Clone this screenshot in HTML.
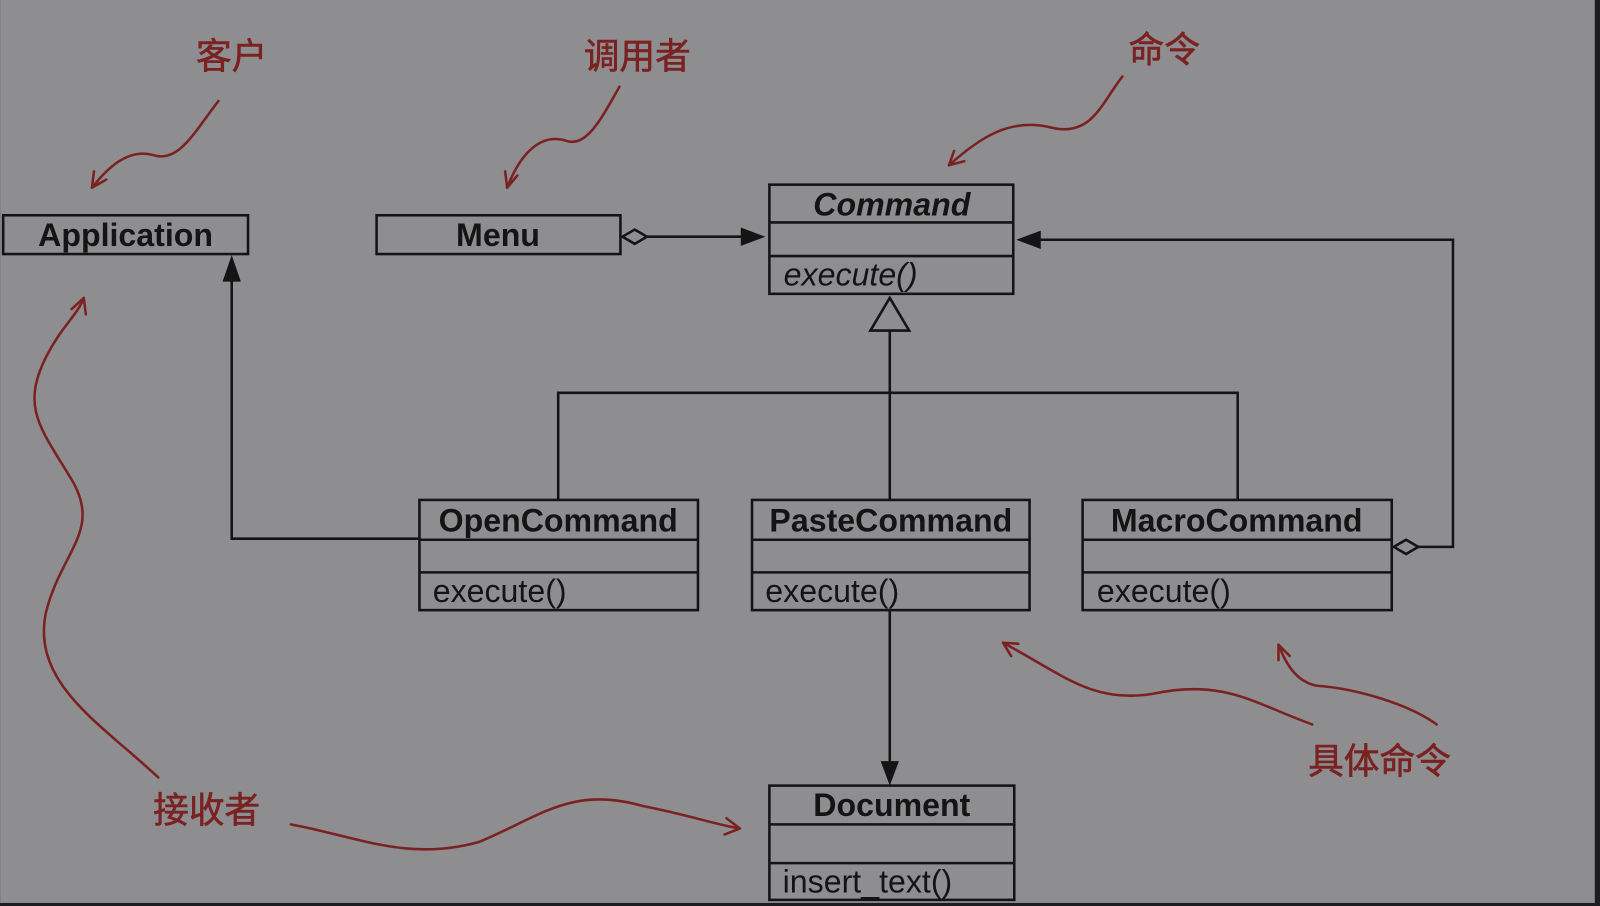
<!DOCTYPE html>
<html><head><meta charset="utf-8"><style>
html,body{margin:0;padding:0;width:1600px;height:906px;overflow:hidden;background:#1d1d1f}
svg{display:block}
.t{font-family:"Liberation Sans",Arial,sans-serif;font-size:31.5px;fill:#141414}
.b{font-weight:bold}
.cn{font-family:"Liberation Sans","Noto Sans CJK SC",sans-serif;font-size:35px;fill:#7a2222;stroke:#7a2222;stroke-width:0.6}
.r{fill:none;stroke:#7a2222;stroke-width:2.5;stroke-linecap:round}
</style></head><body>
<svg width="1600" height="906" viewBox="0 0 1568 888">
<rect x="0" y="0" width="1563" height="885" fill="#8e8d90"/>
<g fill="none" stroke="#141414" stroke-width="2.5">
<rect x="3" y="211" width="240" height="38"/>
<rect x="369" y="211" width="239" height="38"/>
<rect x="754" y="181" width="239" height="107"/>
<line x1="754" y1="218" x2="993" y2="218"/><line x1="754" y1="251" x2="993" y2="251"/>
<rect x="411" y="490" width="273" height="108"/>
<line x1="411" y1="529" x2="684" y2="529"/><line x1="411" y1="561" x2="684" y2="561"/>
<rect x="737" y="490" width="272" height="108"/>
<line x1="737" y1="529" x2="1009" y2="529"/><line x1="737" y1="561" x2="1009" y2="561"/>
<rect x="1061" y="490" width="303" height="108"/>
<line x1="1061" y1="529" x2="1364" y2="529"/><line x1="1061" y1="561" x2="1364" y2="561"/>
<rect x="754" y="770" width="240" height="112"/>
<line x1="754" y1="808" x2="994" y2="808"/><line x1="754" y1="846" x2="994" y2="846"/>
<line x1="634" y1="232" x2="730" y2="232"/>
<polygon points="610,232 622,225 634,232 622,239"/>
<polygon points="853,324 872,292 891,324"/>
<polyline points="872,324 872,490"/>
<polyline points="547,490 547,385 1213,385 1213,490"/>
<polyline points="411,528 227,528 227,272"/>
<polyline points="1390,536 1424,536 1424,235 1018,235"/>
<polygon points="1366,536 1378,529 1390,536 1378,543"/>
<line x1="872" y1="598" x2="872" y2="748"/>
</g>
<g fill="#141414">
<polygon points="750,232 726,223 726,241"/>
<polygon points="227,250 218,276 236,276"/>
<polygon points="996,235 1020,226 1020,244"/>
<polygon points="872,770 863,746 881,746"/>
</g>
<text class="t b" x="123" y="241" text-anchor="middle">Application</text>
<text class="t b" x="488" y="241" text-anchor="middle">Menu</text>
<text class="t b" x="874" y="211" text-anchor="middle" font-style="italic">Command</text>
<text class="t" x="768" y="280" font-style="italic">execute()</text>
<text class="t b" x="547" y="521" text-anchor="middle">OpenCommand</text>
<text class="t" x="424" y="590">execute()</text>
<text class="t b" x="873" y="521" text-anchor="middle">PasteCommand</text>
<text class="t" x="750" y="590">execute()</text>
<text class="t b" x="1212" y="521" text-anchor="middle">MacroCommand</text>
<text class="t" x="1075" y="590">execute()</text>
<text class="t b" x="874" y="800" text-anchor="middle">Document</text>
<text class="t" x="767" y="875">insert_text()</text>
<text class="cn" x="192" y="67">客户</text>
<text class="cn" x="572" y="67">调用者</text>
<text class="cn" x="1106" y="61">命令</text>
<text class="cn" x="1282" y="758">具体命令</text>
<text class="cn" x="150" y="806">接收者</text>
<path class="r" d="M214,99 C190,130 175,160 150,152 C125,145 105,165 90,184"/>
<path class="r" d="M90,184 L92,168 M90,184 L104,176"/>
<path class="r" d="M607,85 C590,115 575,145 555,138 C530,130 510,150 497,184"/>
<path class="r" d="M497,184 L495,168 M497,184 L507,172"/>
<path class="r" d="M1100,75 C1080,100 1070,135 1030,125 C990,115 960,135 930,162"/>
<path class="r" d="M930,162 L935,148 M930,162 L945,158"/>
<path class="r" d="M1286,710 C1230,690 1200,665 1130,680 C1070,690 1040,660 983,630"/>
<path class="r" d="M983,630 L998,631 M983,630 L991,643"/>
<path class="r" d="M1408,710 C1380,690 1330,675 1290,672 C1270,668 1260,650 1253,632"/>
<path class="r" d="M1253,632 L1253,647 M1253,632 L1264,643"/>
<path class="r" d="M155,762 C100,710 30,670 45,600 C60,540 100,520 70,470 C40,420 20,400 45,350 C60,320 75,310 82,292"/>
<path class="r" d="M82,292 L70,303 M82,292 L84,308"/>
<path class="r" d="M285,808 C350,820 400,845 470,825 C530,800 560,770 630,790 C680,800 700,808 725,812"/>
<path class="r" d="M725,812 L712,802 M725,812 L710,818"/>
</svg>
</body></html>
